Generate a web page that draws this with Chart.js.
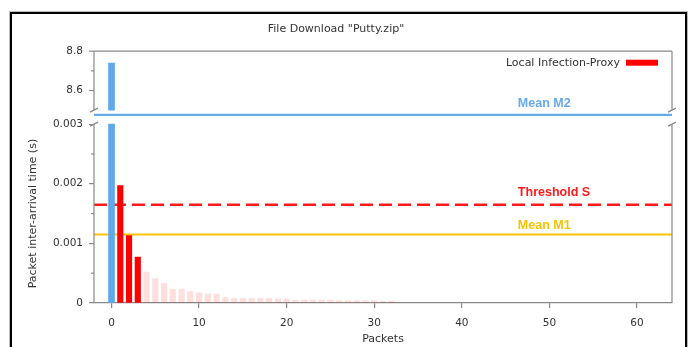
<!DOCTYPE html>
<html>
<head>
<meta charset="utf-8">
<script src="https://cdn.jsdelivr.net/npm/chart.js@4.4.0/dist/chart.umd.min.js"></script>
<style>
  body { margin: 0; background: #fff; }
  #wrap { position: relative; width: 696px; height: 347px; overflow: hidden; }
  #frame { position: absolute; left: 10px; top: 12px; width: 673px; height: 400px; border: 2px solid #000; box-shadow: 0 0 0 1px #bbb; }
  canvas { position: absolute; left: 0; top: 0; }
</style>
</head>
<body>
<div id="wrap">
  <div id="frame"></div>
  <canvas id="chart" width="696" height="347"></canvas>
</div>
<script>
// first packet (off the scale, shown on the upper panel)
const firstPacket = 0;
const firstValue = 8.74;

// packets flagged by the local infection proxy
const proxyPackets = [1, 2, 3];
const proxyValues = [0.00197, 0.00113, 0.00077];

// remaining packets (faded)
const tailPackets = [4, 5, 6, 7, 8, 9, 10, 11, 12, 13, 14, 15, 16, 17, 18, 19, 20, 21, 22, 23, 24, 25, 26, 27, 28, 29, 30, 31, 32];
const tailValues = [0.00052, 0.00041, 0.00033, 0.00023, 0.00023, 0.00019, 0.00017, 0.00015, 0.00015, 0.00009,
  0.00008, 0.00008, 0.00008, 0.00008, 0.00008, 0.00007, 0.00007, 0.00005, 0.00005, 0.00005,
  0.00005, 0.00005, 0.00004, 0.00004, 0.00004, 0.00004, 0.00004, 0.00003, 0.00003];

const meanM1 = 0.00115;
const thresholdS = 0.00165;
const meanM2Shown = 8.476; // drawn at the axis break

const xRange = [-2, 64];
const xTicks = [0, 10, 20, 30, 40, 50, 60];
const lowerTicks = [0, 0.001, 0.002, 0.003];
const lowerMinor = [0.0005, 0.0015, 0.0025];
const upperTicks = [8.6, 8.8];
const upperMinor = [8.7];
const upperRange = [8.5, 8.8];

// panel heights in px (upper, gap, lower) inside the plot area
const upperH = 59, gapH = 14, lowerH = 179;
const areaH = upperH + gapH + lowerH;
const lowerCap = lowerTicks[lowerTicks.length - 1];
const lowerMax = lowerCap * areaH / lowerH;
const upperMin = upperRange[1] - (upperRange[1] - upperRange[0]) * areaH / upperH;

const labelX = 46.4;
const lineLabels = [
  { text: 'Mean M2', color: '#66aaea', value: meanM2Shown, axis: 'yTop', lift: 11 },
  { text: 'Threshold S', color: '#ff1a1a', value: thresholdS, axis: 'y', lift: 12 },
  { text: 'Mean M1', color: '#f5c400', value: meanM1, axis: 'y', lift: 9 }
];

Chart.defaults.font.family = 'DejaVu Sans';
Chart.defaults.color = '#333';

function hLine(value, color, axis, dash, width) {
  return {
    type: 'line',
    data: [{ x: xRange[0], y: value }, { x: xRange[1], y: value }],
    borderColor: color,
    borderWidth: width,
    borderDash: dash,
    pointRadius: 0,
    yAxisID: axis,
    order: 1
  };
}

const decor = {
  id: 'decor',
  afterDraw(chart) {
    const ctx = chart.ctx;
    const { left, right, top, bottom } = chart.chartArea;
    const yb = chart.scales.y, yt = chart.scales.yTop, xs = chart.scales.x;
    const breakTop = yt.getPixelForValue(upperRange[0]);
    const breakBottom = yb.getPixelForValue(lowerCap);
    const line = (x1, y1, x2, y2) => { ctx.beginPath(); ctx.moveTo(x1, y1); ctx.lineTo(x2, y2); ctx.stroke(); };

    ctx.save();
    ctx.strokeStyle = '#888';
    ctx.lineWidth = 1.2;
    line(left, top, right, top);
    [left, right].forEach(x => {
      line(x, top, x, breakTop);
      line(x, breakBottom, x, bottom);
      line(x - 4, breakTop + 2, x + 4, breakTop - 2);
      line(x - 4, breakBottom + 2, x + 4, breakBottom - 2);
    });
    upperMinor.forEach(v => { const y = yt.getPixelForValue(v); line(left - 3, y, left, y); });
    lowerMinor.forEach(v => { const y = yb.getPixelForValue(v); line(left - 3, y, left, y); });
    upperTicks.forEach(v => { const y = yt.getPixelForValue(v); line(left - 5, y, left, y); });

    // upper panel tick labels
    ctx.fillStyle = '#333';
    ctx.font = '10.5px "DejaVu Sans"';
    ctx.textAlign = 'right';
    ctx.textBaseline = 'middle';
    upperTicks.forEach(v => ctx.fillText(String(v), left - 11, yt.getPixelForValue(v)));

    // line labels
    ctx.font = 'bold 12.5px "Liberation Sans"';
    ctx.textAlign = 'left';
    lineLabels.forEach(l => {
      ctx.fillStyle = l.color;
      ctx.fillText(l.text, xs.getPixelForValue(labelX), chart.scales[l.axis].getPixelForValue(l.value) - l.lift);
    });

    // legend
    const boxR = right - 14, boxW = 32, ly = top + 11.5;
    ctx.fillStyle = '#ff0000';
    ctx.fillRect(boxR - boxW, ly - 3, boxW, 6);
    ctx.fillStyle = '#333';
    ctx.font = '11px "DejaVu Sans"';
    ctx.textAlign = 'right';
    ctx.fillText('Local Infection-Proxy', boxR - boxW - 6, ly);

    // y axis title
    ctx.translate(33, (breakBottom + bottom) / 2);
    ctx.rotate(-Math.PI / 2);
    ctx.textAlign = 'center';
    ctx.fillText('Packet inter-arrival time (s)', 0, 0);
    ctx.restore();
  }
};

new Chart(document.getElementById('chart'), {
  type: 'bar',
  data: {
    datasets: [
      {
        label: 'First packet',
        data: [{ x: firstPacket, y: [upperRange[0], firstValue] }],
        backgroundColor: '#5fa8ea',
        barThickness: 6,
        grouped: false,
        yAxisID: 'yTop',
        order: 0
      },
      {
        label: 'First packet (lower)',
        data: [{ x: firstPacket, y: Math.min(firstValue, lowerCap) }],
        backgroundColor: '#5fa8ea',
        barThickness: 6,
        grouped: false,
        yAxisID: 'y',
        order: 0
      },
      {
        label: 'Local Infection-Proxy',
        data: proxyPackets.map((p, i) => ({ x: p, y: proxyValues[i] })),
        backgroundColor: '#ff0000',
        barThickness: 5.5,
        grouped: false,
        yAxisID: 'y',
        order: 0
      },
      {
        label: 'Other packets',
        data: tailPackets.map((p, i) => ({ x: p, y: tailValues[i] })),
        backgroundColor: 'rgba(255,0,0,0.13)',
        barThickness: 5.5,
        grouped: false,
        yAxisID: 'y',
        order: 0
      },
      hLine(meanM2Shown, '#66aaea', 'yTop', [], 2.2),
      hLine(thresholdS, '#ff1a1a', 'y', [13, 6], 2.5),
      hLine(meanM1, '#ffc400', 'y', [], 2)
    ]
  },
  options: {
    responsive: false,
    animation: false,
    devicePixelRatio: 1,
    layout: { padding: { top: 23, right: 24, left: 0, bottom: 0 } },
    plugins: {
      legend: { display: false },
      tooltip: { enabled: false },
      title: {
        display: true,
        text: 'File Download "Putty.zip"',
        font: { size: 11, weight: 'normal' },
        color: '#333',
        padding: { top: 0, bottom: 15 }
      }
    },
    scales: {
      x: {
        type: 'linear',
        min: xRange[0],
        max: xRange[1],
        offset: false,
        afterBuildTicks: s => { s.ticks = xTicks.map(v => ({ value: v })); },
        afterFit: s => { s.height = 44; },
        ticks: { font: { size: 10.5 }, color: '#333', padding: 9, callback: v => String(v) },
        grid: { offset: false, drawOnChartArea: false, tickLength: 5, color: '#888', lineWidth: 1.2 },
        border: { display: true, color: '#888', width: 1.2 },
        title: { display: true, text: 'Packets', font: { size: 11 }, color: '#333', padding: { top: 0, bottom: 1 } }
      },
      y: {
        type: 'linear',
        position: 'left',
        weight: 1,
        min: 0,
        max: lowerMax,
        afterBuildTicks: s => { s.ticks = lowerTicks.map(v => ({ value: v })); },
        afterFit: s => { s.width = 94; },
        ticks: { font: { size: 10.5 }, color: '#333', padding: 6, callback: v => String(v) },
        grid: { drawOnChartArea: false, tickLength: 5, color: '#888', lineWidth: 1.2 },
        border: { display: false }
      },
      yTop: {
        type: 'linear',
        position: 'left',
        weight: 0,
        min: upperMin,
        max: upperRange[1],
        afterBuildTicks: s => { s.ticks = upperTicks.map(v => ({ value: v })); },
        afterFit: s => { s.width = 0; },
        ticks: { display: false },
        grid: { display: false },
        border: { display: false }
      }
    }
  },
  plugins: [decor]
});
</script>
</body>
</html>
